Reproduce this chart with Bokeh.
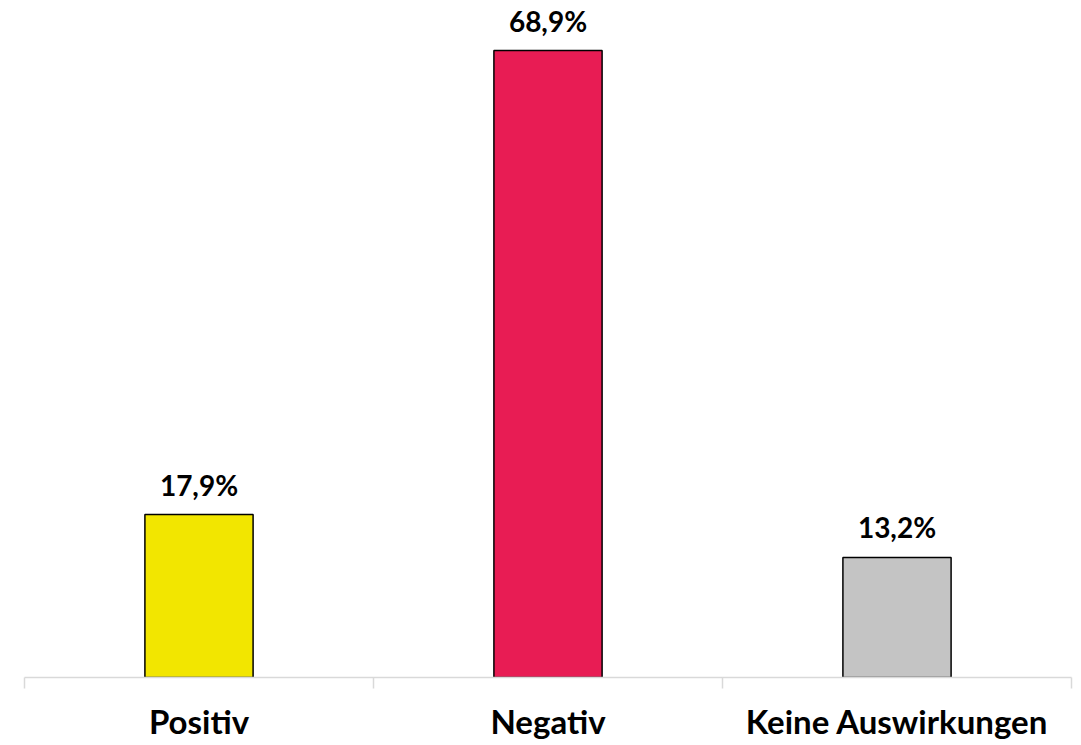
from bokeh.plotting import figure
from bokeh.models import ColumnDataSource, FixedTicker, Range1d
from bokeh.embed import file_html
from bokeh.resources import INLINE
from bokeh.core.properties import value

categories = ["Positiv", "Negativ", "Keine Auswirkungen"]
values = [17.9, 68.9, 13.2]
labels = ["17,9%", "68,9%", "13,2%"]
colors = ["#F2E600", "#E81C54", "#C4C4C4"]

xs = [i + 0.5 for i in range(len(categories))]
src = ColumnDataSource(dict(x=xs, top=values, label=labels, color=colors))

p = figure(width=1073, height=743, output_backend="svg", toolbar_location=None,
           x_range=Range1d(0, len(categories)), y_range=Range1d(0, 74.4),
           min_border_left=24, min_border_right=2, min_border_top=0, min_border_bottom=63)
p.outline_line_color = None
p.grid.visible = False
p.yaxis.visible = False
p.background_fill_color = "white"
p.border_fill_color = "white"

p.vbar(x="x", top="top", bottom=0, width=0.31, source=src, fill_color="color",
       line_color="black", line_width=1.5)
p.text(x="x", y="top", text="label", source=src, text_align="center",
       text_baseline="alphabetic", y_offset=-30, text_font=value("Lato"),
       text_font_style="bold", text_font_size="28px", text_color="black")

ax = p.xaxis[0]
ax.ticker = FixedTicker(ticks=xs, minor_ticks=list(range(len(categories) + 1)))
ax.major_label_overrides = {x: c for x, c in zip(xs, categories)}
ax.major_tick_out = 0
ax.major_tick_in = 0
ax.minor_tick_out = 11
ax.minor_tick_in = 0
ax.minor_tick_line_color = "#D9D9D9"
ax.minor_tick_line_width = 1.5
ax.axis_line_color = "#D9D9D9"
ax.axis_line_width = 1.5
ax.major_label_standoff = 12
ax.major_label_text_font = "Lato"
ax.major_label_text_font_style = "bold"
ax.major_label_text_font_size = "33px"
ax.major_label_text_color = "black"

open("out.html", "w").write(file_html(p, INLINE))
